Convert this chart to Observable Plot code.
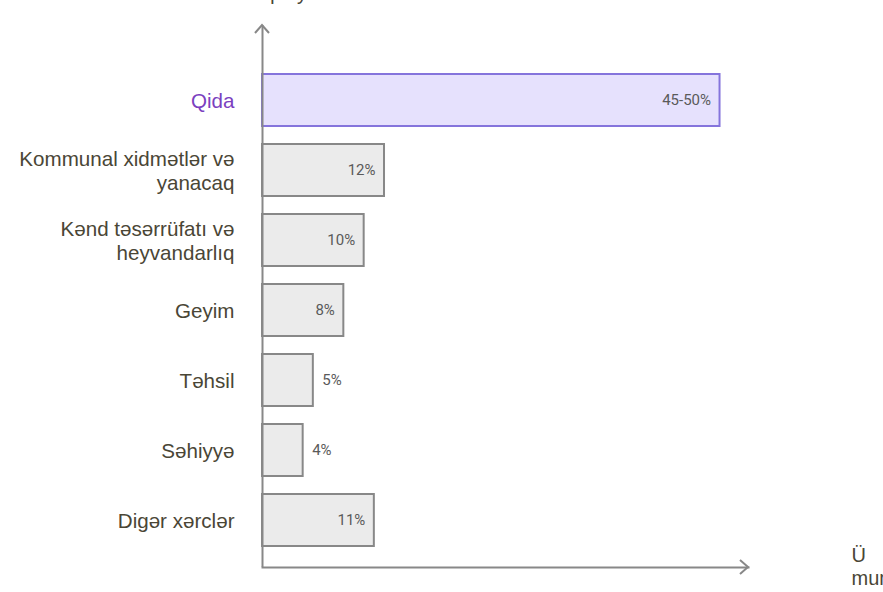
<!DOCTYPE html>
<html>
<head>
<meta charset="utf-8">
<script src="https://cdn.jsdelivr.net/npm/d3@7"></script>
<script src="https://cdn.jsdelivr.net/npm/@observablehq/plot@0.6"></script>
<style>
  html, body { margin: 0; padding: 0; background: #fff; overflow: hidden; }
  #chart svg { display: block; overflow: visible; }
</style>
</head>
<body>
<div id="chart"></div>
<script>
const categories = [
  "Qida",
  "Kommunal xidmətlər və\nyanacaq",
  "Kənd təsərrüfatı və\nheyvandarlıq",
  "Geyim",
  "Təhsil",
  "Səhiyyə",
  "Digər xərclər"
];
const values = [45, 12, 10, 8, 5, 4, 11];
const valueLabels = ["45-50%", "12%", "10%", "8%", "5%", "4%", "11%"];
const highlight = "Qida";
const yAxisLabel = "Xərc kateqoriyaları";
const xAxisLabel = "Ü\nmumi xərclərdə pay (%)";

const data = categories.map((c, i) => ({cat: c, value: values[i], label: valueLabels[i]}));

const olive = "#4a4636";
const purple = "#7b3fbf";

const plot = Plot.plot({
  width: 883,
  height: 592,
  marginLeft: 262,
  marginRight: 135,
  marginTop: 25,
  marginBottom: 25,
  style: {fontFamily: "Liberation Sans, Arial, sans-serif", background: "#fff"},
  x: {domain: [0, 47.8], axis: null},
  y: {domain: categories, range: [65, 555], paddingInner: 0.257, paddingOuter: 0.1285, axis: null},
  marks: [
    Plot.barX(data.filter(d => d.cat !== highlight), {
      x: "value", y: "cat", fill: "#ebebeb", stroke: "#888", strokeWidth: 2
    }),
    Plot.barX(data.filter(d => d.cat === highlight), {
      x: "value", y: "cat", fill: "#e6e1fd", stroke: "#8574dc", strokeWidth: 2
    }),
    Plot.ruleX([0], {stroke: "#888", strokeWidth: 2}),
    Plot.frame({anchor: "bottom", stroke: "#888", strokeWidth: 2}),
    // value labels inside
    Plot.text(data.filter(d => d.value >= 8), {
      x: "value", y: "cat", text: "label", textAnchor: "end", dx: -9,
      fill: "#5a5a5a", fontSize: 15, fontFamily: "Roboto, sans-serif"
    }),
    // value labels outside
    Plot.text(data.filter(d => d.value < 8), {
      x: "value", y: "cat", text: "label", textAnchor: "start", dx: 9,
      fill: "#5a5a5a", fontSize: 15, fontFamily: "Roboto, sans-serif"
    }),
    // category labels
    Plot.text(categories.filter(c => c !== highlight), {
      y: d => d, frameAnchor: "left", textAnchor: "end", lineAnchor: "middle",
      dx: -28, fill: olive, fontSize: 20.6, lineHeight: 1.17
    }),
    Plot.text([highlight], {
      y: d => d, frameAnchor: "left", textAnchor: "end", lineAnchor: "middle",
      dx: -28, fill: purple, fontSize: 20.6, lineHeight: 1.17
    }),
    // axis titles (partly outside the page, as in the reference)
    Plot.text([yAxisLabel], {
      frameAnchor: "top-left", textAnchor: "middle", lineAnchor: "bottom",
      dy: -26, fill: olive, fontSize: 20
    }),
    Plot.text([xAxisLabel], {
      frameAnchor: "bottom-right", textAnchor: "start", lineAnchor: "middle",
      dx: 103, dy: -1, fill: olive, fontSize: 20, lineHeight: 1.15
    })
  ]
});

// arrowheads at the ends of the axes
const svg = d3.select(plot);
const x = plot.scale("x");
const x0 = x.apply(0);
const xEnd = x.apply(x.domain[1]);
svg.append("path")
  .attr("d", `M${x0 - 7},${25 + 8}L${x0},${25}L${x0 + 7},${25 + 8}`)
  .attr("fill", "none").attr("stroke", "#888").attr("stroke-width", 2);
svg.append("path")
  .attr("d", `M${xEnd - 8},${567 - 7}L${xEnd},${567}L${xEnd - 8},${567 + 7}`)
  .attr("fill", "none").attr("stroke", "#888").attr("stroke-width", 2);

document.getElementById("chart").appendChild(plot);
</script>
</body>
</html>
